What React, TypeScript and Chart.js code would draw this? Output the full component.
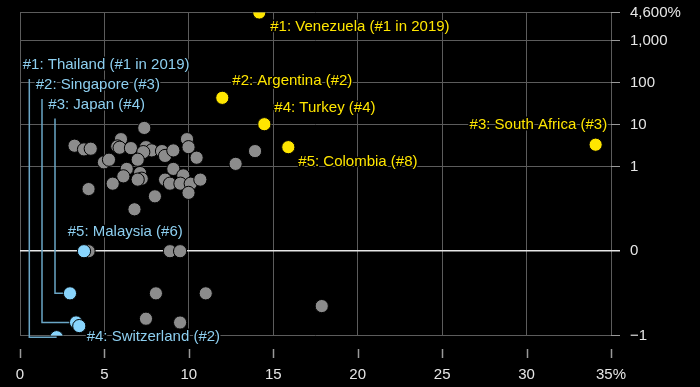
import React, { useEffect, useRef } from "react";
import { Chart, registerables } from "chart.js";

Chart.register(...registerables);

// ---- axis ticks ----
const xTickValues = [0, 5, 10, 15, 20, 25, 30, 35];
const xTickLabels = ["0", "5", "10", "15", "20", "25", "30", "35%"];
const yTickValues = [-1, 0, 1, 10, 100, 1000, 4600];
const yTickLabels = ["\u22121", "0", "1", "10", "100", "1,000", "4,600%"];

// ---- highlighted: high misery (yellow) ----
const highNames = ["Venezuela", "Argentina", "South Africa", "Turkey", "Colombia"];
const highLabels = [
  "#1: Venezuela (#1 in 2019)",
  "#2: Argentina (#2)",
  "#3: South Africa (#3)",
  "#4: Turkey (#4)",
  "#5: Colombia (#8)",
];
const highX = [14.17, 11.98, 34.09, 14.47, 15.89];
const highY = [4600, 43.5, 3.36, 10.3, 2.94];

// ---- highlighted: low misery (blue) ----
const lowNames = ["Thailand", "Singapore", "Japan", "Switzerland", "Malaysia"];
const lowLabels = [
  "#1: Thailand (#1 in 2019)",
  "#2: Singapore (#3)",
  "#3: Japan (#4)",
  "#4: Switzerland (#2)",
  "#5: Malaysia (#6)",
];
const lowX = [2.17, 3.32, 2.96, 3.51, 3.79];
const lowY = [-1.02, -0.845, -0.5, -0.888, 0];

// ---- all other economies (grey) ----
const otherX = [
  7.36, 3.23, 3.79, 4.19, 5.98, 5.76, 5.9, 6.57, 7.46, 7.8, 7.3, 8.41, 8.59,
  9.08, 9.89, 9.98, 10.46, 13.92, 12.77, 4.97, 5.27, 6.97, 6.32, 6.12, 7.11,
  7.21, 6.97, 5.49, 4.06, 9.08, 9.67, 8.59, 8.88, 9.5, 10.11, 10.68, 9.98,
  7.99, 6.78, 4.06, 8.88, 9.48, 8.05, 11.0, 17.87, 7.46, 9.48,
];
const otherY = [
  8.4, 3.18, 2.6, 2.7, 4.55, 3.06, 2.85, 2.79, 2.94, 2.46, 2.24, 2.37, 1.82,
  2.46, 4.55, 2.94, 1.65, 2.37, 1.18, 1.28, 1.48, 1.48, 0.976, 0.888, 0.927,
  0.86, 0.849, 0.801, 0.737, 0.976, 0.899, 0.849, 0.801, 0.801, 0.801, 0.849,
  0.692, 0.651, 0.497, 0, 0, 0, -0.5, -0.5, -0.651, -0.801, -0.846,
];

// linear between -1 and 1, log (two decades per unit) above 1
const T = (v: number) => (v <= 1 ? v : 1 + Math.log10(v) / 2);

const FONT = "'Liberation Sans', Arial, Helvetica, sans-serif";
const YELLOW = "#ffe600";
const BLUE_DOT = "#88d4fc";
const BLUE_TEXT = "#8dcff0";
const BLUE_LINE = "#6aa6c6";
const GRID = "#5c5c5c";

// annotation layout (pixel offsets)
const yellowLayout: Record<string, { dx: number; dy: number; align: CanvasTextAlign }> = {
  Venezuela: { dx: 11, dy: 14, align: "left" },
  Argentina: { dx: 10, dy: -16.5, align: "left" },
  Turkey: { dx: 10, dy: -16, align: "left" },
  Colombia: { dx: 10, dy: 14.5, align: "left" },
  "South Africa": { dx: 11.5, dy: -19.5, align: "right" },
};
// callouts with elbow connectors, anchored to chart area top-left
const elbowLayout: Record<string, { lineDx: number; labelDx: number; labelDy: number }> = {
  Thailand: { lineDx: 9.3, labelDx: 2.7, labelDy: 52.5 },
  Singapore: { lineDx: 22, labelDx: 15.7, labelDy: 72.5 },
  Japan: { lineDx: 35, labelDx: 28.3, labelDy: 92 },
};
const blueDotLayout: Record<string, { dx: number; dy: number }> = {
  Switzerland: { dx: 7.4, dy: 10.7 },
  Malaysia: { dx: -16.3, dy: -19.3 },
};

function haloText(ctx: CanvasRenderingContext2D, text: string, x: number, y: number, color: string, align: CanvasTextAlign) {
  ctx.font = `15px ${FONT}`;
  ctx.textAlign = align;
  ctx.textBaseline = "middle";
  ctx.lineJoin = "round";
  ctx.strokeStyle = "#000";
  ctx.lineWidth = 3;
  ctx.strokeText(text, x, y);
  ctx.fillStyle = color;
  ctx.fillText(text, x, y);
}

const annotationPlugin = {
  id: "annot",
  beforeDatasetsDraw(chart: any) {
    const { ctx, chartArea, scales } = chart;
    const xs = scales.x;
    const ys = scales.y;
    ctx.save();
    ctx.strokeStyle = BLUE_LINE;
    ctx.lineWidth = 1.5;
    lowNames.forEach((n, i) => {
      const l = elbowLayout[n];
      if (!l) return;
      const px = xs.getPixelForValue(lowX[i]);
      const py = ys.getPixelForValue(T(lowY[i]));
      const lx = chartArea.left + l.lineDx;
      const top = chartArea.top + l.labelDy + 14;
      ctx.beginPath();
      ctx.moveTo(lx, top);
      ctx.lineTo(lx, py);
      ctx.lineTo(px, py);
      ctx.stroke();
    });
    ctx.restore();
  },
  afterDatasetsDraw(chart: any) {
    const { ctx, chartArea, scales } = chart;
    const xs = scales.x;
    const ys = scales.y;
    ctx.save();
    highNames.forEach((n, i) => {
      const l = yellowLayout[n];
      const px = xs.getPixelForValue(highX[i]);
      const py = ys.getPixelForValue(T(highY[i]));
      haloText(ctx, highLabels[i], px + l.dx, py + l.dy, YELLOW, l.align);
    });
    lowNames.forEach((n, i) => {
      const e = elbowLayout[n];
      if (e) {
        haloText(ctx, lowLabels[i], chartArea.left + e.labelDx, chartArea.top + e.labelDy, BLUE_TEXT, "left");
        return;
      }
      const l = blueDotLayout[n];
      const px = xs.getPixelForValue(lowX[i]);
      const py = ys.getPixelForValue(T(lowY[i]));
      haloText(ctx, lowLabels[i], px + l.dx, py + l.dy, BLUE_TEXT, "left");
    });
    ctx.restore();
  },
  afterDraw(chart: any) {
    const { ctx, chartArea, scales } = chart;
    const xs = scales.x;
    ctx.save();
    ctx.strokeStyle = "#9a9a9a";
    ctx.lineWidth = 1.5;
    xTickValues.forEach((v) => {
      const x = Math.round(xs.getPixelForValue(v)) + 0.5;
      ctx.beginPath();
      ctx.moveTo(x, chartArea.bottom + 13.5);
      ctx.lineTo(x, chartArea.bottom + 22.5);
      ctx.stroke();
    });
    ctx.restore();
  },
};

export default function App() {
  const ref = useRef<HTMLCanvasElement | null>(null);

  useEffect(() => {
    document.body.style.margin = "0";
    document.body.style.background = "#000";
    const canvas = ref.current;
    if (!canvas) return;
    Chart.defaults.font.family = FONT;

    const toPts = (xs: number[], ys: number[]) => xs.map((x, i) => ({ x, y: T(ys[i]) }));

    const chart = new Chart(canvas, {
      type: "scatter",
      data: {
        datasets: [
          {
            label: "Other",
            data: toPts(otherX, otherY),
            backgroundColor: "#8c8c8c",
            borderColor: "#000",
            borderWidth: 1,
            pointRadius: 6.6,
            order: 3,
          },
          {
            label: "Least miserable",
            data: toPts(lowX, lowY),
            backgroundColor: BLUE_DOT,
            borderColor: "#000",
            borderWidth: 1,
            pointRadius: 6.6,
            order: 2,
          },
          {
            label: "Most miserable",
            data: toPts(highX, highY),
            backgroundColor: YELLOW,
            borderColor: "#000",
            borderWidth: 1,
            pointRadius: 6.6,
            order: 1,
          },
        ],
      },
      options: {
        responsive: true,
        maintainAspectRatio: false,
        animation: false,
        events: [],
        layout: { padding: { left: 20, top: 12.5, right: 0, bottom: 0 } },
        plugins: { legend: { display: false }, tooltip: { enabled: false } },
        scales: {
          x: {
            type: "linear",
            position: "bottom",
            min: 0,
            max: 35,
            afterBuildTicks: (scale: any) => {
              scale.ticks = xTickValues.map((v) => ({ value: v }));
            },
            afterFit: (scale: any) => {
              scale.height = 51.5;
              scale.paddingLeft = 0;
              scale.paddingRight = 0;
            },
            border: { display: false },
            grid: { color: GRID, lineWidth: 1, drawTicks: false },
            ticks: {
              autoSkip: false,
              maxRotation: 0,
              padding: 30,
              color: "#e6e6e6",
              font: { size: 15, family: FONT },
              callback: (value: any) => {
                const i = xTickValues.indexOf(Number(value));
                return i >= 0 ? xTickLabels[i] : "";
              },
            },
          },
          y: {
            type: "linear",
            position: "right",
            min: -1,
            max: T(4600),
            afterBuildTicks: (scale: any) => {
              scale.ticks = yTickValues.map((v) => ({ value: T(v) }));
            },
            afterFit: (scale: any) => {
              scale.width = 89;
              scale.paddingTop = 0;
              scale.paddingBottom = 0;
            },
            border: { display: false },
            grid: {
              color: (c: any) => (c.tick && c.tick.value === 0 ? "#e8e8e8" : GRID),
              tickColor: (c: any) => (c.tick && c.tick.value === 0 ? "#e8e8e8" : "#9a9a9a"),
              lineWidth: (c: any) => (c.tick && c.tick.value === 0 ? 1.5 : 1),
              drawTicks: true,
              tickLength: 9,
            },
            ticks: {
              autoSkip: false,
              padding: 10,
              color: "#e6e6e6",
              font: { size: 15, family: FONT },
              callback: (value: any) => {
                const i = yTickValues.findIndex((v) => Math.abs(T(v) - Number(value)) < 1e-6);
                return i >= 0 ? yTickLabels[i] : "";
              },
            },
          },
        },
      },
      plugins: [annotationPlugin],
    });
    return () => chart.destroy();
  }, []);

  return (
    <div style={{ position: "absolute", left: 0, top: 0, width: 700, height: 387, background: "#000" }}>
      <canvas ref={ref} />
    </div>
  );
}
